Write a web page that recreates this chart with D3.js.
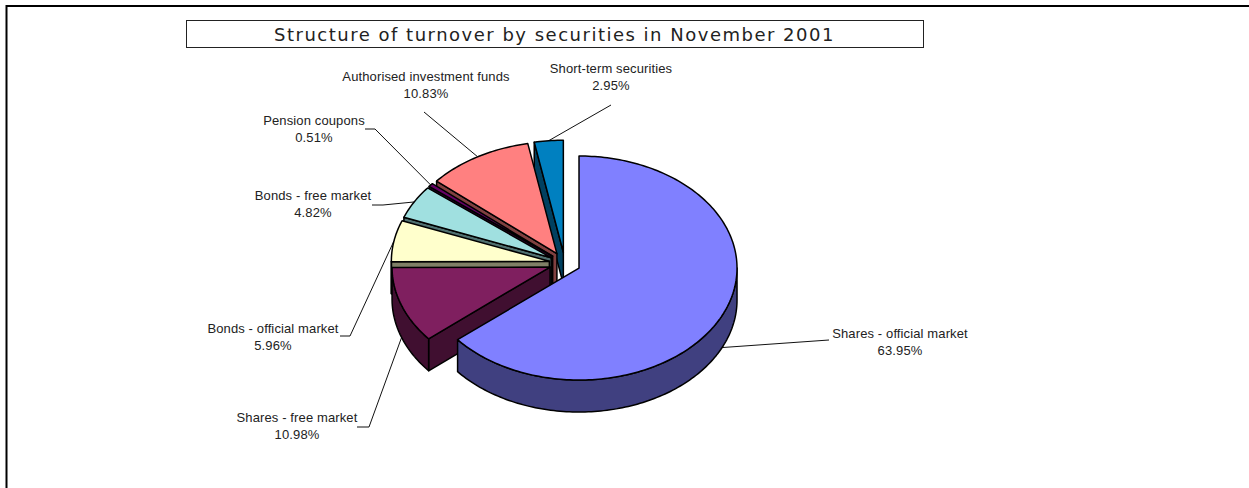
<!DOCTYPE html>
<html>
<head>
<meta charset="utf-8">
<script src="https://cdn.jsdelivr.net/npm/d3@7"></script>
<style>
html, body { margin: 0; padding: 0; background: #fff; }
svg { display: block; }
text { font-family: "Liberation Sans", Arial, sans-serif; font-size: 13px; letter-spacing: 0.12px; fill: #222; }
</style>
</head>
<body>
<div id="chart"></div>
<script>
const categories = ["Shares - official market", "Shares - free market", "Bonds - official market",
    "Bonds - free market", "Pension coupons", "Authorised investment funds", "Short-term securities"];
const shares = [63.95, 10.98, 5.96, 4.82, 0.51, 10.83, 2.95];
const topColours = ["#8080ff", "#7f1f5f", "#ffffcc", "#a0e0e0", "#660066", "#ff8080", "#0080c0"];
const sideColours = ["#404080", "#400f30", "#808066", "#507070", "#330033", "#804040", "#004060"];
const titleText = "Structure of turnover by securities in November 2001";

// Label placement: text centre, first baseline, elbow of the leader line
const labelX = [900, 297, 273, 313, 314, 426, 611];
const labelY = [338, 422, 333, 200, 125, 81, 73];
const leaderStart = [[829, 340], [357, 427], [340, 336], [372, 205], [365, 129], [424, 112], [611, 105]];
const leaderElbow = [null, [369, 427], [350, 336], [383, 205], [375, 129], null, null];

const width = 1249, height = 488;
const cx = 564.8, cy = 263.3, rx = 158, ry = 112, depth = 32, explode = 15.7;
const tilt = ry / rx;

const svg = d3.select("#chart").append("svg").attr("width", width).attr("height", height);

// outer frame, only top and left edges show
svg.append("path").attr("d", `M6.5,${height} V6 H${width}`)
    .attr("fill", "none").attr("stroke", "#000").attr("stroke-width", 2);

svg.append("rect").attr("x", 186.5).attr("y", 20.5).attr("width", 737).attr("height", 27)
    .attr("fill", "#fff").attr("stroke", "#222").attr("stroke-width", 1);
svg.append("text").attr("x", 554.5).attr("y", 40.5).attr("text-anchor", "middle")
    .style("font-family", "'DejaVu Sans', Verdana, sans-serif").style("font-size", "18px")
    .style("letter-spacing", "1.5px").text(titleText);

const pie = d3.pie().sort(null).value(d => d);
const slices = pie(shares);

const line = d3.line();

// point on the rim of a slice, angle clockwise from the top
function rimPoint(centre, angle, dy) {
    return [centre[0] + Math.sin(angle) * rx, centre[1] - Math.cos(angle) * ry + (dy || 0)];
}

function rimPoints(centre, a0, a1, dy) {
    const n = Math.max(2, Math.ceil((a1 - a0) / 0.02));
    return d3.range(n + 1).map(i => rimPoint(centre, a0 + (a1 - a0) * i / n, dy));
}

function sliceCentre(s) {
    const mid = (s.startAngle + s.endAngle) / 2;
    return [cx + Math.sin(mid) * explode, cy - Math.cos(mid) * explode * tilt];
}

function face(points, colour) {
    svg.append("path").attr("d", line(points) + "Z")
        .attr("fill", colour).attr("stroke", "#000").attr("stroke-width", 1.5).attr("stroke-linejoin", "round");
}

// Leader lines go under the pie
slices.forEach((s, i) => {
    const centre = sliceCentre(s);
    const mid = (s.startAngle + s.endAngle) / 2;
    const facesFront = Math.cos(mid) < 0;
    const end = rimPoint(centre, mid, facesFront ? depth : 0);
    const pts = [leaderStart[i]];
    if (leaderElbow[i]) pts.push(leaderElbow[i]);
    pts.push(end);
    svg.append("path").attr("d", line(pts)).attr("fill", "none")
        .attr("stroke", "#111").attr("stroke-width", 1);
});

// Painter's order: back slices first, the big one last
d3.range(slices.length - 1, -1, -1).forEach(i => {
    const s = slices[i];
    const centre = sliceCentre(s);
    const a0 = s.startAngle, a1 = s.endAngle;
    const below = [centre[0], centre[1] + depth];

    // cut faces turned towards the viewer
    if (Math.sin(a0) < -1e-6) {
        face([centre, rimPoint(centre, a0), rimPoint(centre, a0, depth), below], sideColours[i]);
    }
    if (Math.sin(a1) > 1e-6) {
        face([centre, rimPoint(centre, a1), rimPoint(centre, a1, depth), below], sideColours[i]);
    }
    // outer wall, front half only
    const w0 = Math.max(a0, Math.PI / 2), w1 = Math.min(a1, Math.PI * 1.5);
    if (w1 > w0) {
        face(rimPoints(centre, w0, w1, 0).concat(rimPoints(centre, w0, w1, depth).reverse()), sideColours[i]);
    }
    face([centre].concat(rimPoints(centre, a0, a1, 0)), topColours[i]);
});

// Labels
categories.forEach((name, i) => {
    svg.append("text").attr("x", labelX[i]).attr("y", labelY[i]).attr("text-anchor", "middle").text(name);
    svg.append("text").attr("x", labelX[i]).attr("y", labelY[i] + 17).attr("text-anchor", "middle")
        .text(shares[i].toFixed(2) + "%");
});
</script>
</body>
</html>
